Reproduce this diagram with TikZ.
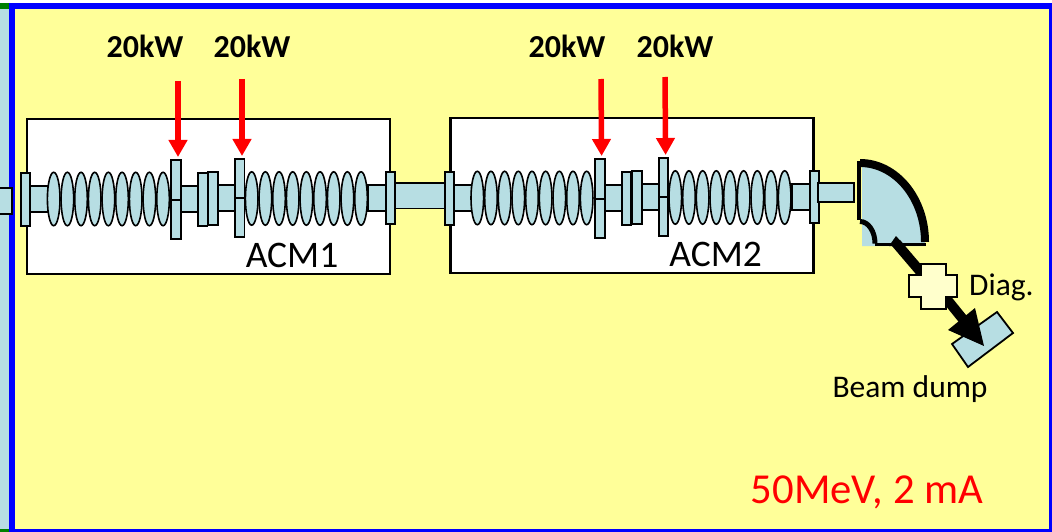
\documentclass[tikz,border=0pt]{standalone}
\usepackage{fontspec}
\setmainfont{Carlito}
\usetikzlibrary{arrows.meta}
\definecolor{bgy}{HTML}{FFFF99}
\definecolor{cav}{HTML}{B7DEE3}
\definecolor{crs}{HTML}{FFFFCC}
\definecolor{pureblue}{HTML}{0000FF}
\tikzset{
  part/.style={draw=black,fill=cav,line width=1.8pt},
  cell/.style={draw=black,fill=cav,line width=1.6pt},
  rfarrow/.style={draw=red,line width=5.5pt,-{Triangle[width=18pt,length=17pt]}},
  beam/.style={draw=black,line width=10pt},
  lab/.style={font=\fontsize{37.5}{40}\selectfont,text=black,inner sep=0pt},
  kw/.style={font=\bfseries\fontsize{32}{34}\selectfont,text=black,inner sep=0pt},
  small/.style={font=\fontsize{31.5}{34}\selectfont,text=black,inner sep=0pt}
}
\newcommand{\acmodule}[4]{%
 % #1 prefix, #2 dx, #3 dy, #4 label
 \begin{scope}[shift={(#2,#3)}]
  \draw[draw=black,fill=white,line width=2.5pt] (27,119) rectangle (390,274);
  \draw[part] (30,186) rectangle (48,212);
  \draw[part] (181,186) rectangle (198,212);
  \draw[part] (218,185) rectangle (235,211);
  \draw[part] (368,185) rectangle (386,211);
  \draw[part] (21,173) rectangle (30,226);
  \foreach \k in {0,...,8}{\draw[cell] (53.7+13.67*\k,199) ellipse [x radius=6.3,y radius=26.7];}
  \foreach \k in {0,...,8}{\draw[cell] (251.7+13.67*\k,198.5) ellipse [x radius=6.3,y radius=26.7];}
  \draw[part] (171,160) rectangle (181,239);
  \draw[black,line width=2pt] (171,199.7) -- (181,199.7);
  \draw[part] (198,173) rectangle (207.5,226);
  \draw[part] (208,172) rectangle (218,225);
  \draw[part] (235,159) rectangle (244.5,237);
  \draw[black,line width=2pt] (235,198) -- (244.5,198);
  \draw[part] (386,172) rectangle (395,224);
  \coordinate (#1c1) at (178,157);
  \coordinate (#1c2) at (242,156);
  \node[lab] (#1lab) at (292,255.5) {#4};
 \end{scope}}
\begin{document}
\begin{tikzpicture}[x=1pt,y=-1pt]
\useasboundingbox (0,0) rectangle (1052,532);
\clip (0,0) rectangle (1052,532);
\fill[white] (0,0) rectangle (1052,532);
\fill[cav] (0,9) rectangle (9,532);
\fill[green!50!black] (0,3) rectangle (9,9);
\fill[green!50!black] (0,529) rectangle (9,532);
\fill[pureblue] (9,3) rectangle (1052,532);
\fill[bgy] (15,9) rectangle (1049,529);
\draw[part] (-3,188) rectangle (12,214);
\draw[part] (395,183) rectangle (445,208.5);
\acmodule{a}{0}{0}{ACM1}
\acmodule{b}{423.6}{-1}{ACM2}
\draw[part] (818,183) rectangle (854,202);
% arrows
\coordinate (s1) at (178,81); \coordinate (s2) at (242,79);
\coordinate (s3) at (601,79); \coordinate (s4) at (665,77);
\draw[rfarrow] (s1) -- (ac1);
\draw[rfarrow] (s2) -- (ac2);
\draw[rfarrow] (s3) -- (bc1);
\draw[rfarrow] (s4) -- (bc2);
\node[kw] (k1) at (145,46) {20kW};
\node[kw] (k2) at (252,46) {20kW};
\node[kw] (k3) at (567,46) {20kW};
\node[kw] (k4) at (675,46) {20kW};
% bend
\fill[cav] (862,163) arc[start angle=-90,end angle=0,x radius=63,y radius=83] -- (925,246) -- (862,246) -- cycle;
\draw[black,line width=8pt] (860,163) arc[start angle=-90,end angle=0,x radius=65,y radius=79];
\draw[black,line width=4pt] (859,161) -- (859,220);
\draw[black,line width=5pt] (860,221.5) arc[start angle=-90,end angle=0,x radius=15,y radius=22];
\draw[black,line width=3pt] (875,244) -- (926,244);
% beam dump
\draw[part] (997,312) -- (1013,333) -- (968,367) -- (952,344) -- cycle;
% beam lines
\coordinate (b0) at (896,243); \coordinate (b1) at (925,277);
\coordinate (b2) at (945,297); \coordinate (b3) at (984,346);
\fill[black] (889,246) -- (896,236) -- (905,246) -- cycle;
\draw[beam] (b0) -- (b1);
\draw[beam] (b2) -- (966,323);
\fill[black] (975,308) -- (948,330) -- (984,346) -- cycle;
% diagnostic cross
\draw[draw=black,fill=crs,line width=2pt] (921,264) -- (946,264) -- (946,275) -- (957,275) -- (957,297) -- (946,297) -- (946,309) -- (921,309) -- (921,297) -- (909,297) -- (909,275) -- (921,275) -- cycle;
\node[small,anchor=west] (d) at (969,287) {Diag.};
\node[small] (bd) at (910,389.5) {Beam dump};
\node[font=\fontsize{42.7}{46}\selectfont,text=red,inner sep=0pt] (e) at (867,492.5) {50MeV, 2 mA};
\end{tikzpicture}
\end{document}
